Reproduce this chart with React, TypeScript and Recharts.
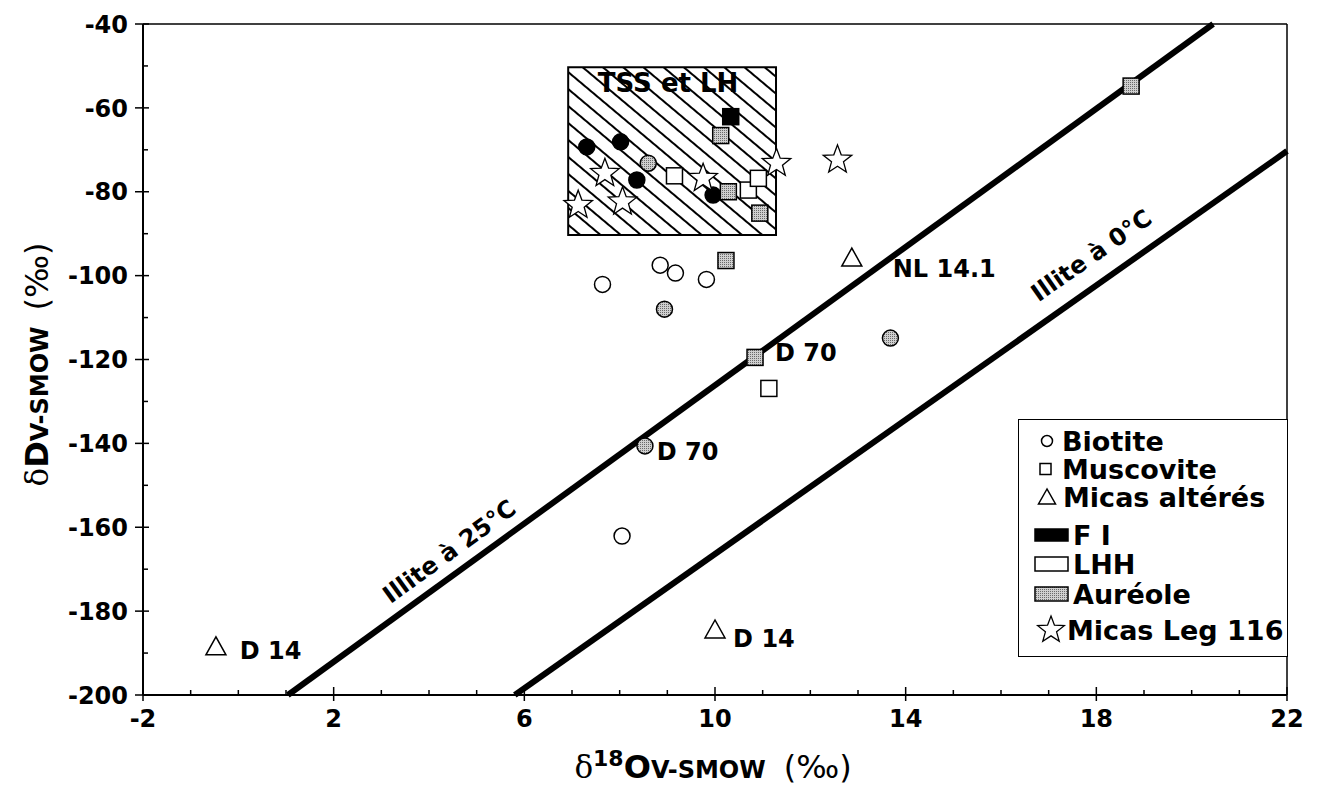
import React from 'react';
import { Label, ReferenceArea, ReferenceLine, Scatter, ScatterChart, XAxis, YAxis } from 'recharts';

const FONT = '"DejaVu Sans", "Liberation Sans", sans-serif';
const SERIF = '"DejaVu Serif", "Liberation Serif", serif';

// δ18O (x) / δD (y) values, per mineral and origin
const biotiteFI = [
  { x: 7.31, y: -69.3 },
  { x: 8.02, y: -68.1 },
  { x: 8.36, y: -77.2 },
  { x: 9.96, y: -80.8 },
];
const biotiteLHH = [
  { x: 7.64, y: -102.1 },
  { x: 8.85, y: -97.5 },
  { x: 9.17, y: -99.4 },
  { x: 9.82, y: -100.9 },
  { x: 8.05, y: -162.1 },
];
const biotiteAureole = [
  { x: 8.6, y: -73.2 },
  { x: 8.94, y: -108 },
  { x: 13.68, y: -114.9 },
  { x: 8.53, y: -140.6 },
];
const muscoviteFI = [{ x: 10.33, y: -62.1 }];
const muscoviteLHH = [
  { x: 9.15, y: -76.2 },
  { x: 10.7, y: -79.6 },
  { x: 10.91, y: -76.8 },
  { x: 11.13, y: -126.9 },
];
const muscoviteAureole = [
  { x: 10.12, y: -66.6 },
  { x: 10.28, y: -80 },
  { x: 10.94, y: -85.1 },
  { x: 10.23, y: -96.4 },
  { x: 10.84, y: -119.5 },
  { x: 18.73, y: -54.8 },
];
const micasAlteres = [
  { x: 12.87, y: -95.8 },
  { x: -0.47, y: -188.5 },
  { x: 10.0, y: -184.5 },
];
const micasLeg116 = [
  { x: 7.13, y: -83.2 },
  { x: 7.69, y: -75.6 },
  { x: 8.06, y: -82.4 },
  { x: 9.75, y: -76.8 },
  { x: 11.29, y: -73.2 },
  { x: 12.57, y: -72.4 },
];

// illite equilibrium lines
const illite25 = [
  { x: 1.04, y: -200 },
  { x: 20.45, y: -40 },
];
const illite0 = [
  { x: 5.8, y: -200 },
  { x: 22, y: -70.3 },
];

// TSS et LH field
const tssBox = { x1: 6.92, x2: 11.28, y1: -90.3, y2: -50.3 };

const pointLabels = [
  { x: 13.73, y: -98.2, text: 'NL 14.1' },
  { x: 11.26, y: -118.4, text: 'D 70' },
  { x: 8.78, y: -142.0, text: 'D 70' },
  { x: 0.03, y: -189.3, text: 'D 14' },
  { x: 10.38, y: -186.4, text: 'D 14' },
];
const lineLabels = [
  { x: 4.42, y: -165.7, text: 'Illite à 25°C', angle: -36 },
  { x: 17.89, y: -95.1, text: 'Illite à 0°C', angle: -35 },
];

const xTicks = [-2, -1, 0, 1, 2, 3, 4, 5, 6, 7, 8, 9, 10, 11, 12, 13, 14, 15, 16, 17, 18, 19, 20, 21, 22];
const xMajor = [-2, 2, 6, 10, 14, 18, 22];
const yTicks = [-200, -190, -180, -170, -160, -150, -140, -130, -120, -110, -100, -90, -80, -70, -60, -50, -40];
const yMajor = [-200, -180, -160, -140, -120, -100, -80, -60, -40];

const legendItems = ['Biotite', 'Muscovite', 'Micas altérés', 'F I', 'LHH', 'Auréole', 'Micas Leg 116'];

const GRAY = 'url(#stipple)';

function starPoints(cx: number, cy: number, R: number) {
  const pts: string[] = [];
  for (let i = 0; i < 10; i++) {
    const r = i % 2 === 0 ? R : R * 0.42;
    const a = -Math.PI / 2 + (i * Math.PI) / 5;
    pts.push(`${cx + r * Math.cos(a)},${cy + r * Math.sin(a)}`);
  }
  return pts.join(' ');
}

const circleShape = (fill: string) => (p: any) => (
  <circle cx={p.cx} cy={p.cy} r={8} fill={fill} stroke="#000" strokeWidth={1.5} />
);
const squareShape = (fill: string) => (p: any) => (
  <rect x={p.cx - 8} y={p.cy - 8} width={16} height={16} fill={fill} stroke="#000" strokeWidth={1.5} />
);
const triangleShape = (p: any) => (
  <polygon
    points={`${p.cx},${p.cy - 10} ${p.cx - 10},${p.cy + 8} ${p.cx + 10},${p.cy + 8}`}
    fill="#fff"
    stroke="#000"
    strokeWidth={1.5}
  />
);
const starShape = (p: any) => (
  <polygon points={starPoints(p.cx, p.cy, 15)} fill="#fff" stroke="#000" strokeWidth={1.3} />
);
const textShape = (p: any) => (
  <text x={p.cx} y={p.cy} dy="0.36em" fontFamily={FONT} fontWeight="bold" fontSize={24} fill="#000">
    {p.payload.text}
  </text>
);
const lineTextShape = (p: any) => (
  <text
    x={p.cx}
    y={p.cy}
    dy="0.36em"
    textAnchor="middle"
    transform={`rotate(${p.payload.angle} ${p.cx} ${p.cy})`}
    fontFamily={FONT}
    fontWeight="bold"
    fontSize={24}
    fill="#000"
  >
    {p.payload.text}
  </text>
);

const XTick = (p: any) => {
  const major = xMajor.includes(p.payload.value);
  return (
    <g>
      <line x1={p.x} x2={p.x} y1={p.y - (major ? 8 : 5)} y2={p.y + (major ? 6 : 0)} stroke="#000" strokeWidth={1.5} />
      {major && (
        <text x={p.x} y={p.y + 32} textAnchor="middle" fontFamily={FONT} fontWeight="bold" fontSize={24} fill="#000">
          {p.payload.value}
        </text>
      )}
    </g>
  );
};

const YTick = (p: any) => {
  const major = yMajor.includes(p.payload.value);
  return (
    <g>
      <line x1={p.x - (major ? 8 : 0)} x2={p.x + (major ? 6 : 5)} y1={p.y} y2={p.y} stroke="#000" strokeWidth={1.5} />
      {major && (
        <text x={p.x - 15} y={p.y} dy="0.36em" textAnchor="end" fontFamily={FONT} fontWeight="bold" fontSize={24} fill="#000">
          {p.payload.value}
        </text>
      )}
    </g>
  );
};

const XTitle = (p: any) => {
  const vb = p.viewBox;
  return (
    <text x={vb.x + vb.width / 2 - 2} y={vb.y + 83} textAnchor="middle" fill="#000">
      <tspan fontFamily={SERIF} fontSize={31}>δ</tspan>
      <tspan fontFamily={FONT} fontWeight="bold" fontSize={22} dy={-12}>18</tspan>
      <tspan fontFamily={FONT} fontWeight="bold" fontSize={32} dy={12}>O</tspan>
      <tspan fontFamily={FONT} fontWeight="bold" fontSize={24}>V-SMOW</tspan>
      <tspan fontFamily={FONT} fontSize={32} dx={18}>(‰)</tspan>
    </text>
  );
};

const YTitle = (p: any) => {
  const vb = p.viewBox;
  const cx = 34;
  const cy = vb.y + vb.height / 2 + 5;
  return (
    <text x={cx} y={cy} dy="0.36em" textAnchor="middle" transform={`rotate(-90 ${cx} ${cy})`} fill="#000">
      <tspan fontFamily={SERIF} fontSize={31}>δ</tspan>
      <tspan fontFamily={FONT} fontWeight="bold" fontSize={32}>D</tspan>
      <tspan fontFamily={FONT} fontWeight="bold" fontSize={24}>V-SMOW</tspan>
      <tspan fontFamily={FONT} fontSize={32} dx={16}>(‰)</tspan>
    </text>
  );
};

function LegendIcon({ i, y }: { i: number; y: number }) {
  if (i === 0) return <circle cx={29} cy={y} r={5.5} fill="#fff" stroke="#000" strokeWidth={1.5} />;
  if (i === 1) return <rect x={22} y={y - 5.5} width={11} height={11} fill="#fff" stroke="#000" strokeWidth={1.5} />;
  if (i === 2)
    return (
      <polygon points={`29,${y - 8} 20.5,${y + 7} 37.5,${y + 7}`} fill="#fff" stroke="#000" strokeWidth={1.5} />
    );
  if (i === 3) return <rect x={17} y={y - 6} width={33} height={12} fill="#000" stroke="#000" strokeWidth={1.5} />;
  if (i === 4) return <rect x={17} y={y - 7} width={33} height={14} fill="#fff" stroke="#000" strokeWidth={1.5} />;
  if (i === 5) return <rect x={17} y={y - 7} width={33} height={14} fill={GRAY} stroke="#000" strokeWidth={1.5} />;
  return <polygon points={starPoints(33, y, 14)} fill="#fff" stroke="#000" strokeWidth={1.3} />;
}

function ChartLegend() {
  const rows = [22, 50, 78, 116, 145, 175, 211];
  const textX = [44, 44, 45, 55, 55, 55, 49];
  return (
    <div
      style={{
        position: 'absolute',
        left: 1010,
        top: 411,
        width: 270,
        height: 238,
        border: '1.5px solid #000',
        background: '#fff',
        boxSizing: 'border-box',
      }}
    >
      <svg width={268} height={236} style={{ display: 'block', position: 'absolute', left: -1.5, top: -1.5 }}>
        {legendItems.map((name, i) => (
          <g key={name}>
            <LegendIcon i={i} y={rows[i]} />
            <text x={textX[i]} y={rows[i]} dy="0.36em" fontFamily={FONT} fontWeight="bold" fontSize={27} fill="#000">
              {name}
            </text>
          </g>
        ))}
      </svg>
    </div>
  );
}

export default function App() {
  return (
    <div style={{ position: 'relative', width: 1305, height: 782, background: '#fff' }}>
      <ScatterChart
        width={1305}
        height={782}
        margin={{ top: 16, right: 26, left: 55, bottom: 35 }}
        style={{ overflow: 'visible' }}
      >
        <defs>
          <pattern id="stipple" width={2} height={2} patternUnits="userSpaceOnUse">
            <rect width={2} height={2} fill="#cfcfcf" />
            <rect width={1} height={1} fill="#6a6a6a" />
          </pattern>
          <pattern id="hatch" width={13} height={13} patternUnits="userSpaceOnUse" patternTransform="rotate(40)">
            <rect width={13} height={13} fill="#fff" />
            <line x1={0} y1={1} x2={13} y2={1} stroke="#000" strokeWidth={2} />
          </pattern>
        </defs>
        <XAxis
          type="number"
          dataKey="x"
          domain={[-2, 22]}
          ticks={xTicks}
          interval={0}
          tickSize={0}
          tickMargin={0}
          tickLine={false}
          tick={XTick}
          axisLine={{ stroke: '#000', strokeWidth: 2 }}
          height={60}
          allowDataOverflow
        >
          <Label content={XTitle} />
        </XAxis>
        <YAxis
          type="number"
          dataKey="y"
          domain={[-200, -40]}
          ticks={yTicks}
          interval={0}
          tickSize={0}
          tickMargin={0}
          tickLine={false}
          tick={YTick}
          axisLine={{ stroke: '#000', strokeWidth: 2 }}
          width={80}
          allowDataOverflow
        >
          <Label content={YTitle} />
        </YAxis>
        <ReferenceLine y={-40} stroke="#000" strokeWidth={1.5} />
        <ReferenceLine x={22} stroke="#000" strokeWidth={1.5} />
        <ReferenceArea
          x1={tssBox.x1}
          x2={tssBox.x2}
          y1={tssBox.y1}
          y2={tssBox.y2}
          fill="url(#hatch)"
          fillOpacity={1}
          stroke="#000"
          strokeWidth={2}
        >
          <Label
            content={(p: any) => (
              <text
                x={p.viewBox.x + p.viewBox.width / 2 - 4}
                y={p.viewBox.y + 25}
                textAnchor="middle"
                fontFamily={FONT}
                fontWeight="bold"
                fontSize={26}
                fill="#000"
              >
                TSS et LH
              </text>
            )}
          />
        </ReferenceArea>
        <ReferenceLine segment={illite25} stroke="#000" strokeWidth={6} />
        <ReferenceLine segment={illite0} stroke="#000" strokeWidth={6} />
        <Scatter data={biotiteLHH} shape={circleShape('#fff')} isAnimationActive={false} />
        <Scatter data={biotiteFI} shape={circleShape('#000')} isAnimationActive={false} />
        <Scatter data={biotiteAureole} shape={circleShape(GRAY)} isAnimationActive={false} />
        <Scatter data={muscoviteLHH} shape={squareShape('#fff')} isAnimationActive={false} />
        <Scatter data={muscoviteFI} shape={squareShape('#000')} isAnimationActive={false} />
        <Scatter data={muscoviteAureole} shape={squareShape(GRAY)} isAnimationActive={false} />
        <Scatter data={micasAlteres} shape={triangleShape} isAnimationActive={false} />
        <Scatter data={micasLeg116} shape={starShape} isAnimationActive={false} />
        <Scatter data={pointLabels} shape={textShape} isAnimationActive={false} />
        <Scatter data={lineLabels} shape={lineTextShape} isAnimationActive={false} />
      </ScatterChart>
      <ChartLegend />
    </div>
  );
}
